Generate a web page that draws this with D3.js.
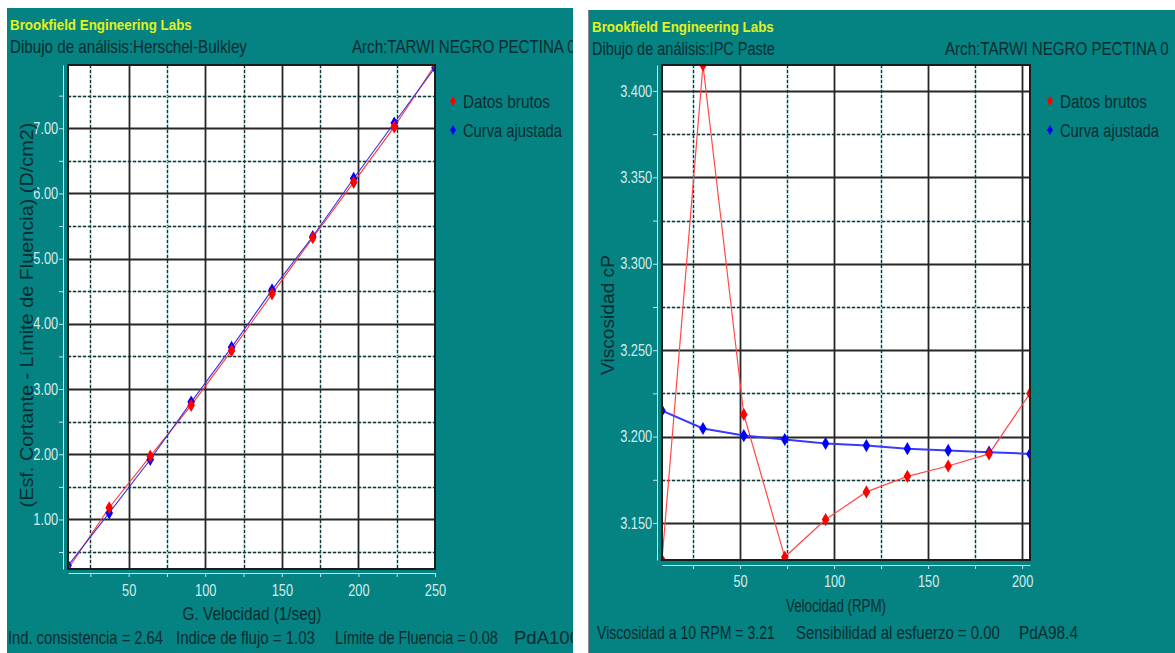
<!DOCTYPE html>
<html><head><meta charset="utf-8">
<script src="https://cdnjs.cloudflare.com/ajax/libs/d3/7.8.5/d3.min.js"></script>
<style>html,body{margin:0;padding:0;background:#fff;}svg{display:block}</style>
</head><body><svg id="c" width="1175" height="653"></svg>
<script>
// ---------- data (Herschel-Bulkley plot) ----------
const hbShear = [10.4, 37.3, 64.1, 90.8, 117.2, 143.6, 170.2, 196.9, 223.4, 250.0];
const hbRaw   = [0.24, 1.18, 1.97, 2.75, 3.59, 4.46, 5.32, 6.17, 7.02, 7.97];
const hbFit   = [0.29, 1.10, 1.92, 2.80, 3.64, 4.52, 5.34, 6.23, 7.08, 7.93];
const hbXTicks  = [25, 50, 75, 100, 125, 150, 175, 200, 225, 250];
const hbXLabels = [50, 100, 150, 200, 250];
const hbYTicks  = [0.5, 1, 1.5, 2, 2.5, 3, 3.5, 4, 4.5, 5, 5.5, 6, 6.5, 7, 7.5];
const hbYLabels = [1, 2, 3, 4, 5, 6, 7];
const hbStats = ["Ind. consistencia = 2.64", "Indice de flujo = 1.03", "Límite de Fluencia = 0.08", "PdA100"];

// ---------- data (IPC Paste plot) ----------
const ipcRpm   = [8.5, 30.3, 52.0, 73.8, 95.5, 117.2, 139.0, 160.7, 182.4, 204.2];
const ipcRaw   = [3.1286, 3.415, 3.2128, 3.1303, 3.152, 3.168, 3.177, 3.183, 3.190, 3.225];
const ipcFit   = [3.215, 3.2047, 3.2006, 3.1983, 3.196, 3.1948, 3.193, 3.192, 3.191, 3.190];
const ipcXTicks  = [25, 50, 75, 100, 125, 150, 175, 200];
const ipcXLabels = [50, 100, 150, 200];
const ipcYTicks  = [3.15, 3.175, 3.2, 3.225, 3.25, 3.275, 3.3, 3.325, 3.35, 3.375, 3.4];
const ipcYLabels = [3.15, 3.2, 3.25, 3.3, 3.35, 3.4];
const ipcStats = ["Viscosidad a 10 RPM = 3.21", "Sensibilidad al esfuerzo = 0.00", "PdA98.4"];

const legendNames = ["Datos brutos", "Curva ajustada"];
const seriesColors = ["#ff0000", "#0000ff"];

// ---------- drawing ----------
const FONT = "'Liberation Sans', Arial, sans-serif";
const TEAL = "#058282";
const DARK = "#062c30";
const LIGHT = "#d6ecec";
const YELLOW = "#e4f01c";
const svg = d3.select("#c");
const defs = svg.append("defs");

// text squeezed horizontally to a target width w (condensed look)
function txt(g, s, x, y, o = {}) {
  const t = g.append("text").attr("x", 0).attr("y", 0).text(s)
    .attr("font-family", FONT).attr("font-size", o.size || 19)
    .attr("fill", o.fill || DARK)
    .attr("font-weight", o.bold ? "bold" : "normal")
    .attr("text-anchor", o.anchor || "start");
  const L = t.node().getComputedTextLength();
  const k = o.w ? o.w / L : 1;
  t.attr("transform", `translate(${x},${y})${o.rot ? " rotate(-90)" : ""} scale(${k},1)`);
  return t;
}
const isIn = (arr, d) => arr.some(v => Math.abs(v - d) < 1e-9);

function drawChart(c) {
  const g = svg.append("g");
  const pid = "pclip" + c.id, bid = "bclip" + c.id;
  defs.append("clipPath").attr("id", pid).append("rect")
    .attr("x", c.panel.x).attr("y", c.panel.y).attr("width", c.panel.w).attr("height", c.panel.h);
  const b = c.box;
  defs.append("clipPath").attr("id", bid).append("rect")
    .attr("x", b.l).attr("y", b.t).attr("width", b.r - b.l).attr("height", b.b - b.t);

  g.append("rect").attr("x", c.panel.x).attr("y", c.panel.y)
    .attr("width", c.panel.w).attr("height", c.panel.h).attr("fill", TEAL);
  const pg = g.append("g").attr("clip-path", `url(#${pid})`);

  const xs = d3.scaleLinear().domain(d3.extent(c.xv)).range([b.l, b.r]);
  const ys = d3.scaleLinear().domain(d3.extent(c.raw.concat(c.fit))).range([b.b, b.t]);

  pg.append("rect").attr("x", b.l).attr("y", b.t).attr("width", b.r - b.l).attr("height", b.b - b.t).attr("fill", "#fff");

  // grid
  const vx = c.xTicks.filter(d => xs(d) < b.r - 1);
  const hy = c.yTicks.filter(d => ys(d) > b.t + 1 && ys(d) < b.b - 1);
  const minV = vx.filter(d => !isIn(c.xLabels, d)), majV = vx.filter(d => isIn(c.xLabels, d));
  const minH = hy.filter(d => !isIn(c.yLabels, d)), majH = hy.filter(d => isIn(c.yLabels, d));
  const grid = pg.append("g");
  function vlines(data, stroke, w, dash) {
    grid.selectAll(null).data(data).enter().append("line")
      .attr("x1", d => Math.round(xs(d)) + 0.5).attr("x2", d => Math.round(xs(d)) + 0.5)
      .attr("y1", b.t).attr("y2", b.b).attr("stroke", stroke).attr("stroke-width", w)
      .attr("stroke-dasharray", dash || null);
  }
  function hlines(data, stroke, w, dash) {
    grid.selectAll(null).data(data).enter().append("line")
      .attr("y1", d => Math.round(ys(d)) + 0.5).attr("y2", d => Math.round(ys(d)) + 0.5)
      .attr("x1", b.l).attr("x2", b.r).attr("stroke", stroke).attr("stroke-width", w)
      .attr("stroke-dasharray", dash || null);
  }
  vlines(minV, "#9fe0e0", 1.6); vlines(minV, "#2a2a2a", 1.3, "3,2");
  hlines(minH, "#9fe0e0", 1.6); hlines(minH, "#2a2a2a", 1.3, "3,2");
  vlines(majV, "#262626", 1.8); hlines(majH, "#262626", 1.8);

  // series
  const sg = pg.append("g").attr("clip-path", `url(#${bid})`);
  const line = vals => d3.line().x((d, i) => xs(c.xv[i])).y(d => ys(d))(vals);
  sg.append("path").attr("d", line(c.raw)).attr("fill", "none").attr("stroke", c.rawLine).attr("stroke-width", c.rawW);
  sg.append("path").attr("d", line(c.fit)).attr("fill", "none").attr("stroke", c.fitLine).attr("stroke-width", c.fitW);
  const sym = d3.symbol().type(d3.symbolDiamond).size(c.msize);
  sg.selectAll(null).data(c.fit).enter().append("path").attr("d", sym)
    .attr("transform", (d, i) => `translate(${xs(c.xv[i])},${ys(d)})`).attr("fill", seriesColors[1]);
  sg.selectAll(null).data(c.raw).enter().append("path").attr("d", sym)
    .attr("transform", (d, i) => `translate(${xs(c.xv[i])},${ys(d)})`).attr("fill", seriesColors[0]);

  // border
  pg.append("rect").attr("x", b.l).attr("y", b.t).attr("width", b.r - b.l).attr("height", b.b - b.t)
    .attr("fill", "none").attr("stroke", "#1c1c1c").attr("stroke-width", 2);

  // axes
  const xa = pg.append("g").attr("transform", `translate(0,${b.b + c.xOff})`)
    .call(d3.axisBottom(xs).tickValues(c.xTicks).tickSize(4).tickSizeOuter(0).tickPadding(c.xPad)
      .tickFormat(d => isIn(c.xLabels, d) ? d3.format("d")(d) : ""));
  const ya = pg.append("g").attr("transform", `translate(${b.l - 5},0)`)
    .call(d3.axisLeft(ys).tickValues(c.yTicks).tickSize(4).tickSizeOuter(0).tickPadding(2)
      .tickFormat(d => isIn(c.yLabels, d) ? d3.format(c.yFmt)(d) : ""));
  [xa, ya].forEach(a => {
    a.select(".domain").attr("stroke", "#c8e2e2");
    a.selectAll(".tick line").attr("stroke", "#c8e2e2");
    a.selectAll("text").attr("fill", LIGHT).attr("font-family", FONT).attr("font-size", 16)
      .attr("transform", "scale(0.8,1)");
  });

  // texts
  txt(pg, "Brookfield Engineering Labs", c.panel.x + 3, c.panel.y + 22, { size: 15, bold: true, fill: YELLOW, w: 182 });
  txt(pg, c.title, c.panel.x + 3, c.panel.y + 45, { w: c.titleW });
  txt(pg, "Arch:TARWI NEGRO PECTINA 0", c.archX, c.panel.y + 45, { w: 224 });
  legendNames.forEach((n, i) => {
    pg.append("path").attr("d", d3.symbol().type(d3.symbolDiamond).size(30))
      .attr("transform", `translate(${c.legX},${101 + i * 29})`).attr("fill", seriesColors[i]);
    txt(pg, n, c.legX + 10, 108 + i * 29, { w: [87, 99][i] });
  });
  txt(pg, c.xTitle, c.xTitleX, c.xTitleY, { anchor: "middle", w: c.xTitleW });
  txt(pg, c.yTitle, c.yTitleX, c.yTitleY, { anchor: "middle", w: c.yTitleW, rot: true, size: c.ySize });
  c.stats.forEach((s, i) => txt(pg, s, c.statsX[i], c.statsY, { w: c.statsW[i] }));
}

drawChart({
  id: "L", panel: { x: 7, y: 8, w: 566, h: 645 }, box: { l: 68, t: 65, r: 435, b: 569 },
  xv: hbShear, raw: hbRaw, fit: hbFit, xTicks: hbXTicks, xLabels: hbXLabels,
  yTicks: hbYTicks, yLabels: hbYLabels, yFmt: ".2f",
  rawLine: "#ff3838", rawW: 1.1, fitLine: "#3a2ee0", fitW: 1.1, msize: 50,
  xOff: 4, xPad: 8,
  title: "Dibujo de análisis:Herschel-Bulkley", titleW: 237, archX: 352, legX: 453,
  xTitle: "G. Velocidad (1/seg)", xTitleX: 252, xTitleY: 620, xTitleW: 139,
  yTitle: "(Esf. Cortante - Límite de Fluencia) (D/cm2)", yTitleX: 33, yTitleY: 315, yTitleW: 385, ySize: 19,
  stats: hbStats, statsX: [8, 176, 335, 514], statsW: [155, 139, 163, 66], statsY: 644
});

drawChart({
  id: "R", panel: { x: 589, y: 10, w: 586, h: 643 }, box: { l: 662, t: 65, r: 1030, b: 560 },
  xv: ipcRpm, raw: ipcRaw, fit: ipcFit, xTicks: ipcXTicks, xLabels: ipcXLabels,
  yTicks: ipcYTicks, yLabels: ipcYLabels, yFmt: ".3f",
  rawLine: "#ff4a4a", rawW: 1.2, fitLine: "#3a3aff", fitW: 2, msize: 50,
  xOff: 5, xPad: 7,
  title: "Dibujo de análisis:IPC Paste", titleW: 183, archX: 945, legX: 1050,
  xTitle: "Velocidad (RPM)", xTitleX: 836, xTitleY: 612, xTitleW: 100,
  yTitle: "Viscosidad cP", yTitleX: 614, yTitleY: 315, yTitleW: 120, ySize: 18,
  stats: ipcStats, statsX: [597, 796, 1019], statsW: [178, 204, 59], statsY: 639
});
svg.append("line").attr("x1", 588.5).attr("x2", 588.5).attr("y1", 10).attr("y2", 653)
  .attr("stroke", "#8a8a8a").attr("stroke-width", 1);
</script></body></html>
